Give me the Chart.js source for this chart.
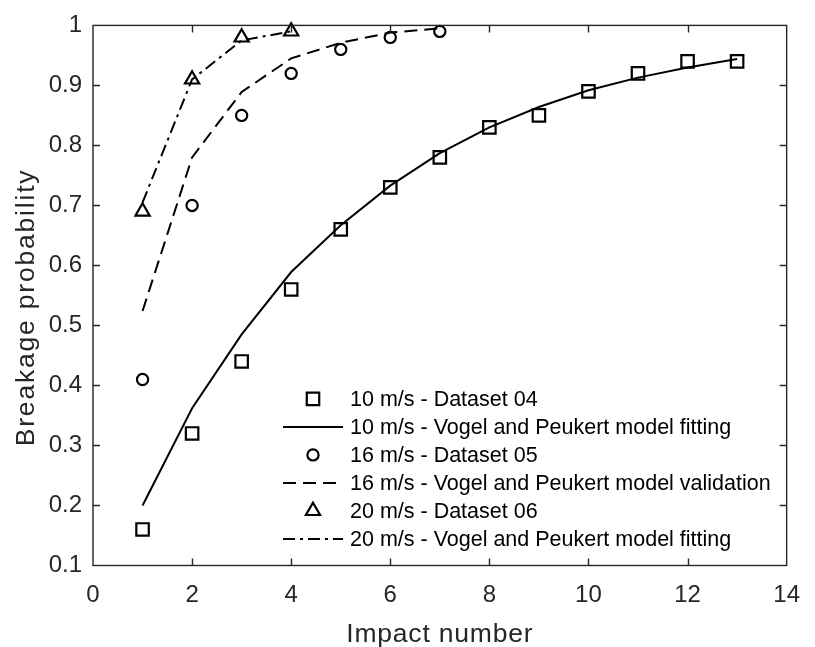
<!DOCTYPE html>
<html>
<head>
<meta charset="utf-8">
<title>Breakage probability vs impact number</title>
<script src="https://cdn.jsdelivr.net/npm/chart.js@4/dist/chart.umd.min.js"></script>
<style>
  html, body { margin: 0; padding: 0; background: #fff; }
  #wrap { width: 815px; height: 647px; }
</style>
</head>
<body>
<div id="wrap"><canvas id="chart" width="815" height="647"></canvas></div>
<script>
// ---- data ----
const impacts10 = [1, 2, 3, 4, 5, 6, 7, 8, 9, 10, 11, 12, 13];
const dataset04 = [0.16, 0.32, 0.44, 0.56, 0.66, 0.73, 0.78, 0.83, 0.85, 0.89, 0.92, 0.94, 0.94];
const fit10 = [0.200, 0.362, 0.485, 0.589, 0.667, 0.733, 0.787, 0.830, 0.864, 0.892, 0.913, 0.930, 0.944];

const impacts16 = [1, 2, 3, 4, 5, 6, 7];
const dataset05 = [0.41, 0.70, 0.85, 0.92, 0.96, 0.98, 0.99];
const validation16 = [0.524, 0.780, 0.889, 0.945, 0.971, 0.988, 0.995];

const impacts20 = [1, 2, 3, 4];
const dataset06 = [0.69, 0.91, 0.98, 0.99];
const fit20 = [0.705, 0.910, 0.975, 0.990];

const xTicks = [0, 2, 4, 6, 8, 10, 12, 14];
const yTicks = [0.1, 0.2, 0.3, 0.4, 0.5, 0.6, 0.7, 0.8, 0.9, 1];

const seriesLabels = [
  '10 m/s - Dataset 04',
  '10 m/s - Vogel and Peukert model fitting',
  '16 m/s - Dataset 05',
  '16 m/s - Vogel and Peukert model validation',
  '20 m/s - Dataset 06',
  '20 m/s - Vogel and Peukert model fitting'
];

const xTitle = 'Impact number';
const yTitle = 'Breakage probability';

// ---- helpers ----
const pairs = (xs, ys) => xs.map((x, i) => ({ x: x, y: ys[i] }));
const FONT = "'Liberation Sans', Arial, Helvetica, sans-serif";
const AXIS_COLOR = '#262626';

function markerSeries(label, xs, ys, style, radius) {
  return {
    label: label,
    data: pairs(xs, ys),
    showLine: false,
    pointStyle: style,
    pointRadius: radius,
    pointHoverRadius: radius,
    pointBorderWidth: 2.2,
    pointBorderColor: '#000',
    pointBackgroundColor: 'rgba(0,0,0,0)',
    borderColor: '#000',
    clip: false
  };
}

function lineSeries(label, xs, ys, dash) {
  return {
    label: label,
    data: pairs(xs, ys),
    showLine: true,
    borderColor: '#000',
    borderWidth: 2,
    borderDash: dash,
    pointRadius: 0,
    pointHoverRadius: 0,
    tension: 0,
    fill: false,
    clip: false
  };
}

const DASHED = [13, 7];
const DASH_DOT = [12, 5, 3, 5];

// ---- axes box with inward tick marks on all four sides ----
const axesBox = {
  id: 'axesBox',
  afterDatasetsDraw(chart) {
    const { ctx, chartArea: a, scales } = chart;
    const tick = 7;
    ctx.save();
    ctx.strokeStyle = AXIS_COLOR;
    ctx.lineWidth = 1.4;
    ctx.setLineDash([]);
    ctx.beginPath();
    xTicks.forEach(v => {
      const px = Math.round(scales.x.getPixelForValue(v)) + 0.5;
      if (v === xTicks[0] || v === xTicks[xTicks.length - 1]) return;
      ctx.moveTo(px, a.bottom); ctx.lineTo(px, a.bottom - tick);
      ctx.moveTo(px, a.top); ctx.lineTo(px, a.top + tick);
    });
    yTicks.forEach(v => {
      const py = Math.round(scales.y.getPixelForValue(v)) + 0.5;
      if (v === yTicks[0] || v === yTicks[yTicks.length - 1]) return;
      ctx.moveTo(a.left, py); ctx.lineTo(a.left + tick, py);
      ctx.moveTo(a.right, py); ctx.lineTo(a.right - tick, py);
    });
    ctx.stroke();
    ctx.strokeRect(a.left, a.top, a.right - a.left, a.bottom - a.top);
    ctx.restore();
  }
};

// ---- axis titles ----
const axisTitles = {
  id: 'axisTitles',
  afterDraw(chart) {
    const { ctx, chartArea: a } = chart;
    ctx.save();
    ctx.fillStyle = AXIS_COLOR;
    ctx.font = '26.5px ' + FONT;
    ctx.textAlign = 'center';
    ctx.textBaseline = 'alphabetic';
    if ('letterSpacing' in ctx) ctx.letterSpacing = '0.8px';
    ctx.fillText(xTitle, (a.left + a.right) / 2, a.bottom + 76);
    ctx.translate(a.left - 59, (a.top + a.bottom) / 2 + 12);
    ctx.rotate(-Math.PI / 2);
    if ('letterSpacing' in ctx) ctx.letterSpacing = '1.8px';
    ctx.fillText(yTitle, 0, 0);
    ctx.restore();
  }
};

// ---- legend inside the axes (no box) ----
function drawMarker(ctx, style, r, x, y) {
  if (Chart.helpers && Chart.helpers.drawPoint) {
    Chart.helpers.drawPoint(ctx, { pointStyle: style, radius: r, rotation: 0, borderWidth: 2.2 }, x, y);
    return;
  }
  ctx.beginPath();
  if (style === 'circle') ctx.arc(x, y, r, 0, Math.PI * 2);
  else if (style === 'rect') { const s = r * Math.SQRT1_2; ctx.rect(x - s, y - s, 2 * s, 2 * s); }
  else { ctx.moveTo(x, y - r); ctx.lineTo(x + r * 0.866, y + r / 2); ctx.lineTo(x - r * 0.866, y + r / 2); ctx.closePath(); }
  ctx.stroke();
}

const insideLegend = {
  id: 'insideLegend',
  afterDraw(chart) {
    const { ctx, chartArea: a } = chart;
    const sampleCx = a.left + 220;
    const sampleHalf = 30;
    const textX = a.left + 257;
    const firstRow = a.top + 373.5;
    const rowGap = 28;
    ctx.save();
    chart.data.datasets.forEach((ds, i) => {
      const y = firstRow + i * rowGap;
      ctx.strokeStyle = '#000';
      ctx.fillStyle = 'rgba(0,0,0,0)';
      if (ds.showLine) {
        ctx.lineWidth = ds.borderWidth;
        ctx.setLineDash(ds.borderDash || []);
        ctx.beginPath();
        ctx.moveTo(sampleCx - sampleHalf, y);
        ctx.lineTo(sampleCx + sampleHalf, y);
        ctx.stroke();
      } else {
        ctx.lineWidth = ds.pointBorderWidth;
        ctx.setLineDash([]);
        drawMarker(ctx, ds.pointStyle, ds.pointRadius, sampleCx, y);
      }
      ctx.setLineDash([]);
      ctx.fillStyle = '#000';
      ctx.font = '21.5px ' + FONT;
      ctx.textAlign = 'left';
      ctx.textBaseline = 'middle';
      ctx.fillText(ds.label, textX, y + 1);
    });
    ctx.restore();
  }
};

// ---- chart ----
new Chart(document.getElementById('chart'), {
  type: 'scatter',
  data: {
    datasets: [
      markerSeries(seriesLabels[0], impacts10, dataset04, 'rect', 8.8),
      lineSeries(seriesLabels[1], impacts10, fit10, []),
      markerSeries(seriesLabels[2], impacts16, dataset05, 'circle', 5.6),
      lineSeries(seriesLabels[3], impacts16, validation16, DASHED),
      markerSeries(seriesLabels[4], impacts20, dataset06, 'triangle', 8.2),
      lineSeries(seriesLabels[5], impacts20, fit20, DASH_DOT)
    ]
  },
  options: {
    responsive: false,
    animation: false,
    events: [],
    layout: { padding: { top: 16.5, right: 18, bottom: 0, left: 0 } },
    plugins: {
      legend: { display: false },
      tooltip: { enabled: false },
      title: { display: false }
    },
    scales: {
      x: {
        type: 'linear',
        min: xTicks[0],
        max: xTicks[xTicks.length - 1],
        afterBuildTicks: s => { s.ticks = xTicks.map(v => ({ value: v })); },
        afterFit: s => { s.height = 81.5; },
        grid: { display: false, drawTicks: false },
        border: { display: false },
        ticks: {
          padding: 15,
          maxRotation: 0,
          color: AXIS_COLOR,
          font: { family: FONT, size: 24 },
          callback: v => String(v)
        }
      },
      y: {
        type: 'linear',
        min: yTicks[0],
        max: yTicks[yTicks.length - 1],
        afterBuildTicks: s => { s.ticks = yTicks.map(v => ({ value: v })); },
        afterFit: s => { s.width = 93; },
        grid: { display: false, drawTicks: false },
        border: { display: false },
        ticks: {
          padding: 11,
          color: AXIS_COLOR,
          font: { family: FONT, size: 24 },
          callback: v => String(v)
        }
      }
    }
  },
  plugins: [axesBox, axisTitles, insideLegend]
});
</script>
</body>
</html>
